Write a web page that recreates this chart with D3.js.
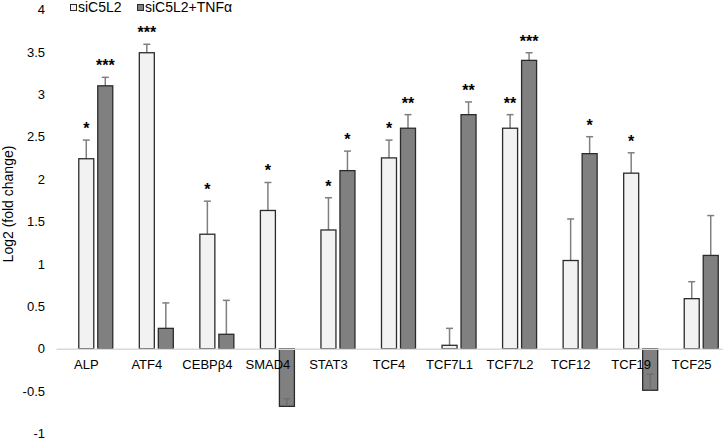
<!DOCTYPE html>
<html>
<head>
<meta charset="utf-8">
<script src="https://cdn.jsdelivr.net/npm/d3@7"></script>
<style>
  body { margin: 0; background: #fff; }
  svg text { font-family: "Liberation Sans", Arial, sans-serif; fill: #000; }
</style>
</head>
<body>
<div id="chart"></div>
<script>
// data
var genes = ["ALP", "ATF4", "CEBPβ4", "SMAD4", "STAT3", "TCF4", "TCF7L1", "TCF7L2", "TCF12", "TCF19", "TCF25"];
var ctrlMean = [2.24, 3.49, 1.35, 1.63, 1.40, 2.25, 0.04, 2.60, 1.04, 2.07, 0.59];
var ctrlErr  = [0.22, 0.10, 0.39, 0.33, 0.38, 0.21, 0.20, 0.16, 0.49, 0.24, 0.20];
var ctrlSig  = ["*", "***", "*", "*", "*", "*", "", "**", "", "*", ""];
var tnfMean  = [3.10, 0.24, 0.17, -0.68, 2.10, 2.60, 2.76, 3.40, 2.30, -0.49, 1.10];
var tnfErr   = [0.10, 0.30, 0.40, 0.09, 0.23, 0.16, 0.15, 0.09, 0.20, 0.19, 0.47];
var tnfSig   = ["***", "", "", "", "*", "**", "**", "***", "*", "", ""];
var yTicks = [-1, -0.5, 0, 0.5, 1, 1.5, 2, 2.5, 3, 3.5, 4];
var seriesNames = ["siC5L2", "siC5L2+TNFα"];

var W = 726, H = 441;
var svg = d3.select("#chart").append("svg")
    .attr("width", W)
    .attr("height", H);

var x = d3.scaleBand()
    .domain(genes)
    .range([56, 722])
    .padding(0);

var y = d3.scaleLinear()
    .domain([-1, 4])
    .range([433.5, 9.5]);

var barW = 15, gap = 4;

// build rows for the two series
var rows = [];
genes.forEach(function(g, i) {
    rows.push({gene: g, v: ctrlMean[i], e: ctrlErr[i], s: ctrlSig[i], k: 0});
    rows.push({gene: g, v: tnfMean[i], e: tnfErr[i], s: tnfSig[i], k: 1});
});

function barX(d) {
    var c = x(d.gene) + x.bandwidth() / 2;
    return d.k === 0 ? c - barW / 2 : c + barW / 2 + gap;
}
function barC(d) { return barX(d) + barW / 2; }

// error bars (plus direction only)
var eb = svg.append("g").attr("stroke", "#7f7f7f").attr("stroke-width", 1.5);
eb.selectAll(".ev").data(rows).enter().append("line")
    .attr("x1", barC).attr("x2", barC)
    .attr("y1", function(d) { return y(d.v); })
    .attr("y2", function(d) { return y(d.v + d.e); });
eb.selectAll(".ec").data(rows).enter().append("line")
    .attr("x1", function(d) { return barC(d) - 3.5; })
    .attr("x2", function(d) { return barC(d) + 3.5; })
    .attr("y1", function(d) { return y(d.v + d.e); })
    .attr("y2", function(d) { return y(d.v + d.e); });

// bars
svg.append("g").selectAll("rect").data(rows).enter().append("rect")
    .attr("x", barX)
    .attr("width", barW)
    .attr("y", function(d) { return y(Math.max(0, d.v)); })
    .attr("height", function(d) { return Math.abs(y(d.v) - y(0)); })
    .attr("fill", function(d) { return d.k === 0 ? "#f2f2f2" : "#808080"; })
    .attr("stroke", "#2b2b2b")
    .attr("stroke-width", 1.3);

// error bars that sit inside negative bars are drawn over them
svg.append("g").attr("stroke", "#6a6a6a").attr("stroke-width", 1.2)
    .selectAll("line").data(rows.filter(function(d) { return d.v < 0; })).enter().append("path")
    .attr("fill", "none")
    .attr("d", function(d) {
        var c = barC(d), y0 = y(d.v), y1 = y(d.v + d.e);
        return "M" + c + "," + y0 + "V" + y1 + "M" + (c - 3.5) + "," + y1 + "H" + (c + 3.5);
    });

// significance stars
svg.append("g").selectAll("text").data(rows.filter(function(d) { return d.s; })).enter().append("text")
    .attr("x", barC)
    .attr("y", function(d) { return y(d.v + d.e) - 6; })
    .attr("text-anchor", "middle")
    .style("font-size", "16px")
    .style("font-weight", "bold")
    .text(function(d) { return d.s; });

// y axis
var yAxis = svg.append("g")
    .attr("transform", "translate(56,0)")
    .call(d3.axisLeft(y).tickValues(yTicks).tickSize(0).tickPadding(11)
        .tickFormat(function(d) { return String(d); }));
yAxis.select(".domain").remove();
yAxis.selectAll("text").style("font-size", "13px").style("font-family", "Liberation Sans, Arial, sans-serif");

// x axis (category labels drawn over the bars)
var xAxis = svg.append("g")
    .attr("transform", "translate(0," + y(0) + ")")
    .call(d3.axisBottom(x).tickSize(0).tickSizeOuter(0).tickPadding(11));
xAxis.select(".domain").attr("stroke", "#d9d9d9").attr("stroke-width", 1.5);
xAxis.selectAll("text").style("font-size", "13px").style("font-family", "Liberation Sans, Arial, sans-serif");

// y axis title
svg.append("text")
    .attr("transform", "translate(13,204) rotate(-90)")
    .attr("text-anchor", "middle")
    .style("font-size", "14px")
    .text("Log2 (fold change)");

// legend
var legX = [70, 137];
var leg = svg.append("g").selectAll("g").data(seriesNames).enter().append("g")
    .attr("transform", function(d, i) { return "translate(" + legX[i] + ",0)"; });
leg.append("rect")
    .attr("x", 0.5).attr("y", 4.5)
    .attr("width", 6).attr("height", 6)
    .attr("fill", function(d, i) { return i === 0 ? "#f2f2f2" : "#808080"; })
    .attr("stroke", "#2b2b2b")
    .attr("stroke-width", 1);
leg.append("text")
    .attr("x", 8).attr("y", 12)
    .style("font-size", "14px")
    .text(function(d) { return d; });
</script>
</body>
</html>
